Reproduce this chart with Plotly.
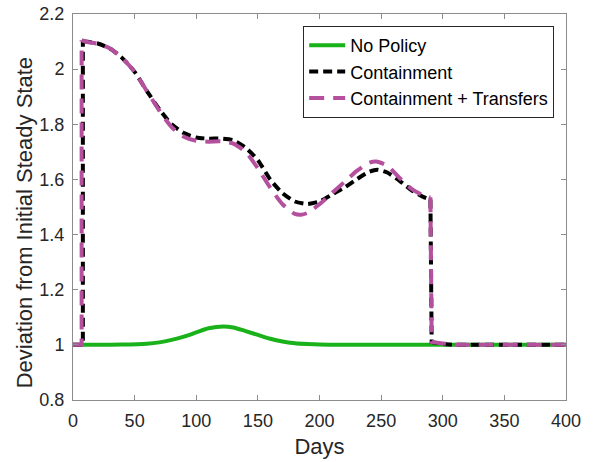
import plotly.graph_objects as go

# No Policy
days_np = [0, 40, 60, 70, 80, 90, 100, 110, 122, 130, 140, 150, 160, 170, 180, 190, 200, 220, 400]
val_np = [1.0, 1.001, 1.004, 1.009, 1.018, 1.03, 1.045, 1.06, 1.067, 1.063, 1.05, 1.036, 1.022, 1.012,
          1.006, 1.003, 1.001, 1.0, 1.0]

# Containment
days_c = [0, 8, 8, 10, 20, 30, 40, 50, 60, 70, 80, 90, 100, 110, 120, 130, 140, 150, 160, 170, 180,
          190, 200, 210, 220, 230, 240, 247, 255, 265, 275, 285, 290, 291, 300, 310, 400]
val_c = [1.0, 1.0, 2.1, 2.1, 2.093, 2.075, 2.04, 1.99, 1.92, 1.855, 1.80, 1.768, 1.752, 1.748, 1.748,
         1.742, 1.715, 1.67, 1.60, 1.55, 1.52, 1.511, 1.52, 1.545, 1.57, 1.60, 1.627, 1.635, 1.625,
         1.595, 1.56, 1.535, 1.527, 1.01, 1.003, 1.0, 1.0]

# Containment + Transfers
days_t = [0, 7, 7, 10, 20, 30, 40, 50, 60, 70, 80, 90, 100, 110, 120, 130, 140, 150, 160, 170, 180,
          185, 190, 200, 210, 220, 230, 240, 246, 255, 265, 275, 285, 290, 291, 300, 310, 400]
val_t = [1.0, 1.0, 2.105, 2.1, 2.092, 2.075, 2.04, 1.99, 1.92, 1.85, 1.79, 1.755, 1.74, 1.737, 1.738,
         1.73, 1.70, 1.64, 1.57, 1.51, 1.475, 1.472, 1.478, 1.51, 1.55, 1.59, 1.63, 1.66, 1.665, 1.65,
         1.605, 1.565, 1.54, 1.535, 1.01, 1.005, 1.0, 1.0]

x_ticks = [0, 50, 100, 150, 200, 250, 300, 350, 400]
y_ticks = [0.8, 1.0, 1.2, 1.4, 1.6, 1.8, 2.0, 2.2]
y_ticklabels = ["0.8", "1", "1.2", "1.4", "1.6", "1.8", "2", "2.2"]

FONT = "Liberation Sans, Arial, Helvetica, sans-serif"
TXT = "rgb(38,38,38)"

GREEN = "rgb(26,178,26)"
BLACK = "black"
MAGENTA = "rgb(181,80,158)"


def add_policy(fig, days, vals, name, color, dash):
    # step-in (rise), smooth middle, step-out (drop) so corners stay sharp
    i_top = 2
    i_end = days.index(290)
    common = dict(mode="lines", legendgroup=name, hoverinfo="skip")
    fig.add_trace(go.Scatter(x=days[:i_top + 1], y=vals[:i_top + 1], showlegend=False,
                             line=dict(color=color, width=4, dash=dash), **common))
    fig.add_trace(go.Scatter(x=days[i_top:i_end + 1], y=vals[i_top:i_end + 1], name=name, showlegend=True,
                             line=dict(color=color, width=4, dash=dash, shape="spline", smoothing=0.6),
                             **common))
    fig.add_trace(go.Scatter(x=days[i_end:], y=vals[i_end:], showlegend=False,
                             line=dict(color=color, width=4, dash=dash), **common))


fig = go.Figure()
fig.add_trace(go.Scatter(x=days_np, y=val_np, mode="lines", name="No Policy", legendgroup="np",
                         line=dict(color=GREEN, width=4, shape="spline", smoothing=0.8)))
add_policy(fig, days_c, val_c, "Containment", BLACK, "9px,5px")
add_policy(fig, days_t, val_t, "Containment + Transfers", MAGENTA, "15px,9px")

axis_common = dict(showline=True, mirror="ticks", ticks="inside", ticklen=5, tickwidth=1,
                   linecolor="rgb(140,140,140)", tickcolor="rgb(140,140,140)", linewidth=1,
                   showgrid=False, zeroline=False, automargin=False,
                   tickfont=dict(family=FONT, size=18, color=TXT))

fig.update_layout(
    width=593, height=462,
    margin=dict(l=73, r=27, t=14, b=62),
    plot_bgcolor="white", paper_bgcolor="white",
    font=dict(family=FONT, size=18, color=TXT),
    xaxis=dict(range=[0, 400], tickvals=x_ticks, ticklabelstandoff=4,
               title=dict(text="Days", standoff=9, font=dict(family=FONT, size=22, color=TXT)),
               **axis_common),
    yaxis=dict(range=[0.8, 2.2], tickvals=y_ticks, ticktext=y_ticklabels, ticklabelstandoff=4,
               **axis_common),
    legend=dict(x=0.976, y=0.969, xanchor="right", yanchor="top", bgcolor="white",
                bordercolor="rgb(40,40,40)", borderwidth=1, tracegroupgap=0, itemwidth=36,
                font=dict(family=FONT, size=18, color="black")),
    showlegend=True,
    annotations=[dict(text="Deviation from Initial Steady State", textangle=-90,
                      xref="paper", yref="paper", x=-0.0975, y=0.46, xanchor="center", yanchor="middle",
                      showarrow=False, font=dict(family=FONT, size=22, color=TXT))],
)

fig.write_html("out.html")
